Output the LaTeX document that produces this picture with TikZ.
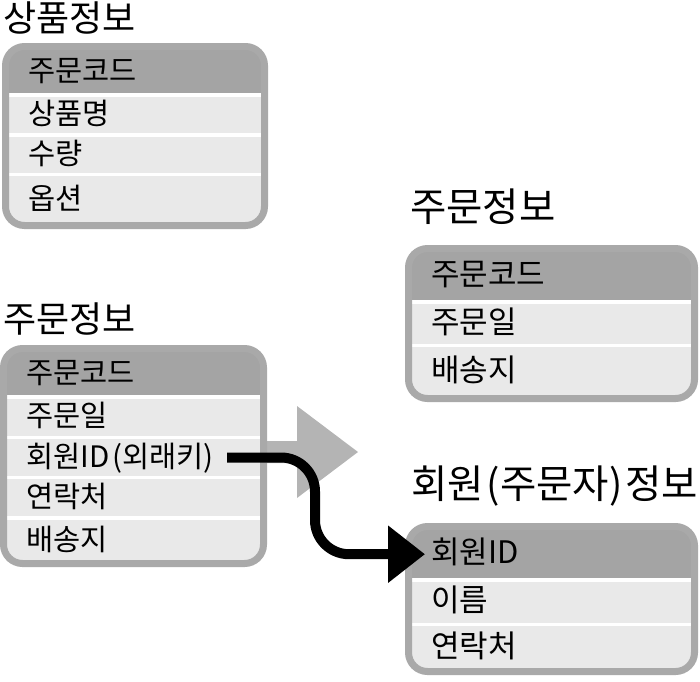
\documentclass[tikz,border=0pt]{standalone}
\usepackage{fontspec}
\setmainfont{Noto Sans CJK KR}
\usetikzlibrary{arrows.meta, positioning, backgrounds}
\definecolor{tabedge}{HTML}{A9A9A9}
\definecolor{tabhead}{HTML}{A4A4A4}
\definecolor{tabrow}{HTML}{E9E9E9}
\definecolor{bigarr}{HTML}{B4B4B4}
\tikzset{
  tabttl/.style   = {font=\fontsize{36pt}{40pt}\selectfont, anchor=base west,
                     inner sep=0pt},
  bigttl/.style   = {tabttl, font=\fontsize{39.5pt}{44pt}\selectfont},
  tabframe/.style = {draw=tabedge, line width=7pt, rounded corners=19pt,
                     anchor=north west, inner sep=0pt, outer sep=0pt},
  tabcell/.style  = {font=\fontsize{29.5pt}{32pt}\selectfont, fill=tabrow,
                     align=left, inner xsep=19pt, inner ysep=0pt,
                     text height=24pt, text depth=5pt},
  tabkey/.style   = {tabcell, fill=tabhead},
  fkarr/.style    = {draw=black, line width=10pt, rounded corners=34pt,
                     -{Triangle[length=37pt, width=55pt]}},
  bigarrow/.style = {fill=bigarr},
}

\begin{document}
\begin{tikzpicture}[x=1pt, y=-1pt, node distance=3pt]
  \useasboundingbox (0,0) rectangle (700,681);

  \fill[bigarrow] (262,441) -- (297,441) -- (297,406) -- (358,452)
                  -- (297,498) -- (297,463) -- (262,463) -- cycle;

  % 상품정보
  \node[tabttl] (pttl) at (3,31) {상품정보};
  \node[tabframe, minimum width=259pt, minimum height=179pt] (pbox) at (5.5,46.5) {};
  \begin{scope}[on background layer, tabcell/.append style={text width=214pt}]
    \node[tabkey, minimum height=43pt, below right=3.5pt and 3.5pt of pbox.north west] (pkey) {주문코드};
    \node[tabcell, minimum height=36.5pt, below=of pkey] (pname) {상품명};
    \node[tabcell, minimum height=36.5pt, below=of pname] (pqty) {수량};
    \node[tabcell, minimum height=47pt, below=of pqty] (popt) {옵션};
  \end{scope}

  % 주문정보 (before)
  \node[tabttl] (bttl) at (3,332) {주문정보};
  \node[tabframe, minimum width=260pt, minimum height=215pt] (bbox) at (3.5,348.5) {};
  \begin{scope}[on background layer, tabcell/.append style={text width=215pt}]
    \node[tabkey, minimum height=43pt, below right=3.5pt and 3.5pt of bbox.north west] (bkey) {주문코드};
    \node[tabcell, minimum height=37pt, below=of bkey] (bdate) {주문일};
    \node[tabcell, minimum height=37pt, below=of bdate] (bfk) {회원ID\kern3pt(외래키)};
    \node[tabcell, minimum height=37pt, below=of bfk] (btel) {연락처};
    \node[tabcell, minimum height=42pt, below=of btel] (baddr) {배송지};
  \end{scope}

  % 주문정보 (after)
  \node[bigttl] (cttl) at (410,221) {주문정보};
  \node[tabframe, minimum width=286pt, minimum height=150pt] (cbox) at (408.5,248.5) {};
  \begin{scope}[on background layer, tabcell/.append style={text width=241pt, font=\fontsize{31pt}{34pt}\selectfont}]
    \node[tabkey, minimum height=48pt, below right=3.5pt and 3.5pt of cbox.north west] (ckey) {주문코드};
    \node[tabcell, minimum height=40pt, below=of ckey] (cdate) {주문일};
    \node[tabcell, minimum height=49pt, below=of cdate] (caddr) {배송지};
  \end{scope}

  % 회원(주문자)정보
  \node[bigttl] (dttl) at (411,498) {회원\kern3pt(주문자)\kern3pt정보};
  \node[tabframe, minimum width=286pt, minimum height=145pt] (dbox) at (408.5,526.5) {};
  \begin{scope}[on background layer, tabcell/.append style={text width=241pt, font=\fontsize{31pt}{34pt}\selectfont}]
    \node[tabkey, minimum height=48pt, below right=3.5pt and 3.5pt of dbox.north west] (dkey) {회원ID};
    \node[tabcell, minimum height=41pt, below=of dkey] (dname) {이름};
    \node[tabcell, minimum height=43pt, below=of dname] (dtel) {연락처};
  \end{scope}

  \coordinate (fkout) at ([xshift=220pt]bfk.west);
  \coordinate (fkin) at ([xshift=13pt]dkey.west);
  \draw[fkarr] (fkout) -- ++(88,0) |- (fkin);
\end{tikzpicture}
\end{document}
